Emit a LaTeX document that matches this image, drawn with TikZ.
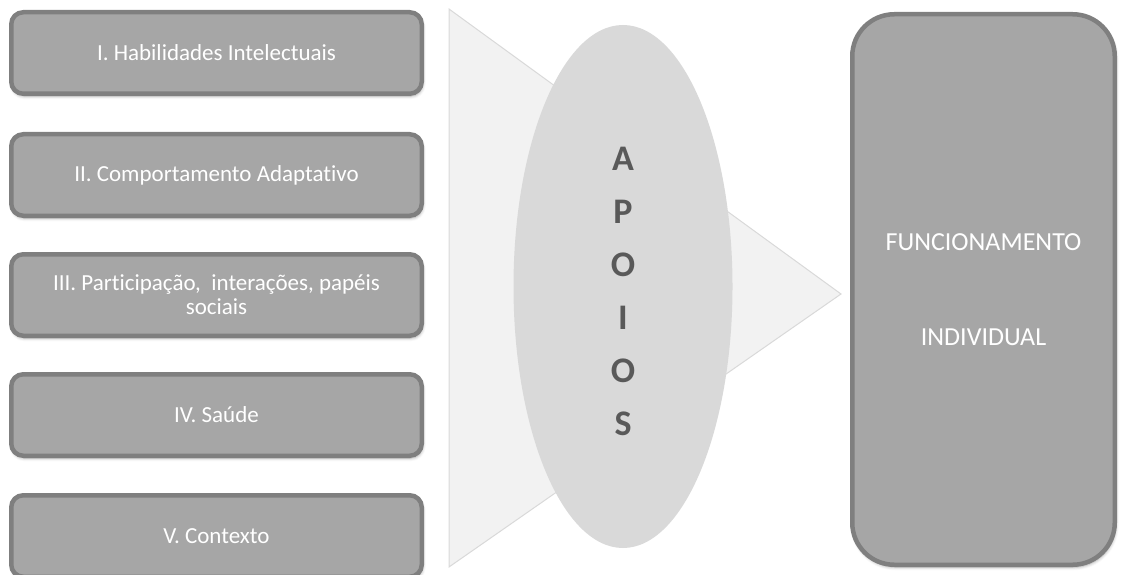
\documentclass[tikz,border=0pt]{standalone}
\usepackage{fontspec}
\setmainfont{Carlito}[RawFeature=-liga]
\usetikzlibrary{shapes.geometric,shadows.blur}
\definecolor{boxfill}{HTML}{A6A6A6}
\definecolor{boxline}{HTML}{7F7F7F}
\definecolor{arrowfill}{HTML}{F2F2F2}
\definecolor{arrowline}{HTML}{D9D9D9}
\definecolor{ovalfill}{HTML}{D9D9D9}
\definecolor{lettercol}{HTML}{595959}
\tikzset{
  softshadow/.style={blur shadow={shadow xshift=1pt, shadow yshift=-2.5pt,
      shadow blur radius=3pt, shadow opacity=35}},
  dimbox/.style={rectangle, rounded corners=12pt, fill=boxfill, draw=boxline,
      line width=4.5pt, minimum width=410.5pt, minimum height=81.5pt,
      inner sep=0pt, align=center, text=white,
      font=\fontsize{23}{24}\selectfont, softshadow},
  resultbox/.style={rectangle, rounded corners=42pt, fill=boxfill, draw=boxline,
      line width=4.5pt, minimum width=262.5pt, minimum height=550.5pt,
      inner sep=0pt, align=center, text=white,
      font=\fontsize{26}{95}\selectfont, softshadow},
  supportoval/.style={ellipse, fill=ovalfill, draw=none, inner sep=0pt,
      minimum width=219pt, minimum height=523pt},
  supportletters/.style={align=center, text=lettercol, inner sep=0pt,
      font=\fontsize{36}{53}\selectfont\bfseries},
}
\begin{document}
\begin{tikzpicture}[x=1pt, y=-1pt]
  \useasboundingbox (0,0) rectangle (1121,575);

  % dimensions on the left
  \node[dimbox] (d1) at (216.5,53)  {I. Habilidades Intelectuais};
  \node[dimbox] (d2) at (216.5,175) {II. Comportamento Adaptativo};
  \node[dimbox] (d3) at (216.5,295) {III. Participação,\ \ interações, papéis\\sociais};
  \node[dimbox] (d4) at (216.5,415) {IV. Saúde};
  \node[dimbox] (d5) at (216.5,536) {V. Contexto};

  % large pointing triangle behind the supports
  \draw[fill=arrowfill, draw=arrowline, line width=1pt]
    (449,9) -- (841,294) -- (449,567) -- cycle;

  % supports oval with stacked letters
  \node[supportoval] (apoios) at (623,286.5) {};
  \node[supportletters] (apoiostext) at (623,291) {A\\P\\O\\I\\O\\S};

  % outcome on the right
  \node[resultbox] (func) at (983.5,289.5) {FUNCIONAMENTO\\INDIVIDUAL};
\end{tikzpicture}
\end{document}
